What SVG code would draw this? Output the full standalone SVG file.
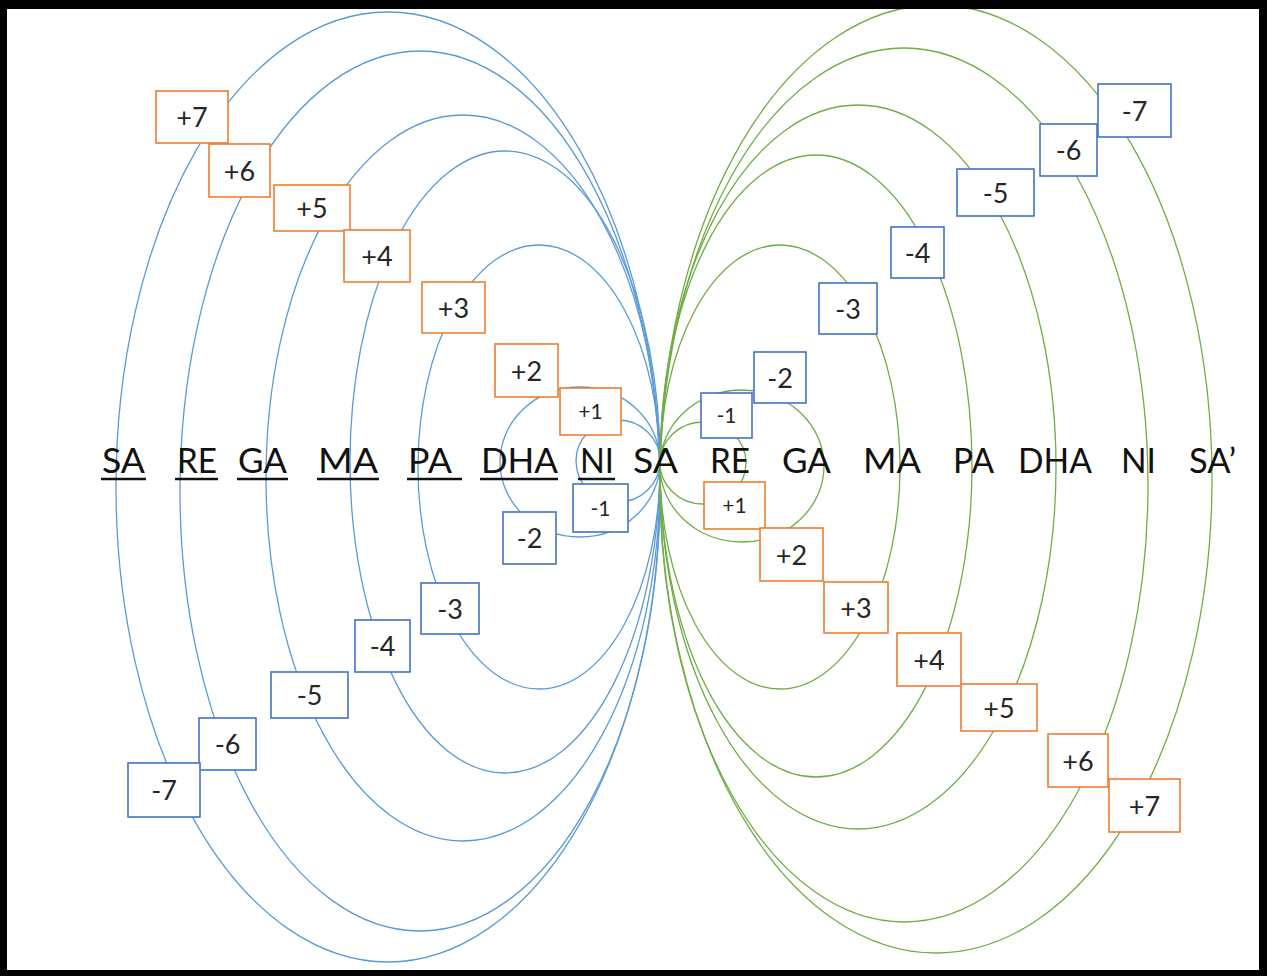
<svg xmlns="http://www.w3.org/2000/svg" width="1267" height="976" viewBox="0 0 1267 976">
  <style>
    .orb-l { fill: none; stroke: #5b9bd5; stroke-width: 1.3; }
    .orb-r { fill: none; stroke: #70ad47; stroke-width: 1.3; }
    .box-up { fill: #ffffff; stroke: #ed7d31; stroke-width: 1.6; }
    .box-dn { fill: #ffffff; stroke: #4472c4; stroke-width: 1.6; }
    .num { font-family: Lato, "Liberation Sans", sans-serif; font-size: 27px; fill: #262626; text-anchor: middle; }
    .num.small { font-size: 21px; }
    .note { font-family: Lato, "Liberation Sans", sans-serif; font-size: 34px; fill: #111111; }
    .ul { stroke: #111111; stroke-width: 2.6; }
  </style>

  <rect x="0" y="0" width="1267" height="976" fill="#ffffff"/>

  <!-- interval orbits: every loop passes through the central SA -->
  <g id="connectors">
    <g id="orbits-left">
      <ellipse class="orb-l" cx="388" cy="487" rx="272" ry="475"/>
      <ellipse class="orb-l" cx="420" cy="491" rx="240" ry="440"/>
      <ellipse class="orb-l" cx="463" cy="478" rx="197" ry="363"/>
      <ellipse class="orb-l" cx="505" cy="462" rx="155" ry="311"/>
      <ellipse class="orb-l" cx="539" cy="467" rx="121" ry="222"/>
      <ellipse class="orb-l" cx="580" cy="462" rx="80" ry="75"/>
      <ellipse class="orb-l" cx="618" cy="461" rx="42" ry="41"/>
    </g>
    <g id="orbits-right">
      <ellipse class="orb-r" cx="936" cy="479" rx="276" ry="474"/>
      <ellipse class="orb-r" cx="904" cy="485" rx="244" ry="437"/>
      <ellipse class="orb-r" cx="858" cy="467" rx="198" ry="362"/>
      <ellipse class="orb-r" cx="816" cy="466" rx="156" ry="311"/>
      <ellipse class="orb-r" cx="780" cy="467" rx="120" ry="222"/>
      <ellipse class="orb-r" cx="742" cy="466" rx="82" ry="76"/>
      <ellipse class="orb-r" cx="703" cy="463" rx="43" ry="41"/>
    </g>
  </g>

  <!-- note names -->
  <g id="scale-left">
    <text class="note" x="102" y="473" textLength="43" lengthAdjust="spacingAndGlyphs">SA</text>
    <text class="note" x="177" y="473" textLength="40" lengthAdjust="spacingAndGlyphs">RE</text>
    <text class="note" x="238" y="473" textLength="49" lengthAdjust="spacingAndGlyphs">GA</text>
    <text class="note" x="318" y="473" textLength="60" lengthAdjust="spacingAndGlyphs">MA</text>
    <text class="note" x="408" y="473" textLength="44" lengthAdjust="spacingAndGlyphs">PA</text>
    <text class="note" x="481" y="473" textLength="77" lengthAdjust="spacingAndGlyphs">DHA</text>
    <text class="note" x="580" y="473" textLength="34" lengthAdjust="spacingAndGlyphs">NI</text>
    <line class="ul" x1="101" y1="479" x2="146" y2="479"/>
    <line class="ul" x1="175" y1="479" x2="218" y2="479"/>
    <line class="ul" x1="237" y1="479" x2="288" y2="479"/>
    <line class="ul" x1="317" y1="479" x2="379" y2="479"/>
    <line class="ul" x1="407" y1="479" x2="462" y2="479"/>
    <line class="ul" x1="480" y1="479" x2="558" y2="479"/>
    <line class="ul" x1="578" y1="479" x2="615" y2="479"/>
  </g>
  <g id="scale-centre">
    <text class="note" x="633" y="473" textLength="45" lengthAdjust="spacingAndGlyphs">SA</text>
  </g>
  <g id="scale-right">
    <text class="note" x="710" y="473" textLength="40" lengthAdjust="spacingAndGlyphs">RE</text>
    <text class="note" x="782" y="473" textLength="49" lengthAdjust="spacingAndGlyphs">GA</text>
    <text class="note" x="863" y="473" textLength="58" lengthAdjust="spacingAndGlyphs">MA</text>
    <text class="note" x="953" y="473" textLength="41" lengthAdjust="spacingAndGlyphs">PA</text>
    <text class="note" x="1018" y="473" textLength="74" lengthAdjust="spacingAndGlyphs">DHA</text>
    <text class="note" x="1121" y="473" textLength="35" lengthAdjust="spacingAndGlyphs">NI</text>
    <text class="note" x="1189" y="473" textLength="47" lengthAdjust="spacingAndGlyphs">SA’</text>
  </g>

  <!-- left side: ascending steps -->
  <g id="left-up-7"><rect class="box-up" x="156" y="91" width="72" height="52"/><text class="num" x="192" y="127">+7</text></g>
  <g id="left-up-6"><rect class="box-up" x="209" y="144" width="61" height="53"/><text class="num" x="239.5" y="180.5">+6</text></g>
  <g id="left-up-5"><rect class="box-up" x="274" y="185" width="76" height="46"/><text class="num" x="312" y="218">+5</text></g>
  <g id="left-up-4"><rect class="box-up" x="344" y="230" width="66" height="52"/><text class="num" x="377" y="266">+4</text></g>
  <g id="left-up-3"><rect class="box-up" x="422" y="282" width="63" height="51"/><text class="num" x="453.5" y="317.5">+3</text></g>
  <g id="left-up-2"><rect class="box-up" x="495" y="344" width="63" height="53"/><text class="num" x="526.5" y="380.5">+2</text></g>
  <g id="left-up-1"><rect class="box-up" x="560" y="388" width="61" height="47"/><text class="num small" x="590.5" y="419">+1</text></g>

  <!-- left side: descending steps -->
  <g id="left-down-1"><rect class="box-dn" x="573" y="484" width="55" height="48"/><text class="num small" x="600.5" y="515.5">-1</text></g>
  <g id="left-down-2"><rect class="box-dn" x="503" y="512" width="53" height="52"/><text class="num" x="529.5" y="548">-2</text></g>
  <g id="left-down-3"><rect class="box-dn" x="421" y="583" width="58" height="51"/><text class="num" x="450" y="618.5">-3</text></g>
  <g id="left-down-4"><rect class="box-dn" x="355" y="620" width="55" height="52"/><text class="num" x="382.5" y="656">-4</text></g>
  <g id="left-down-5"><rect class="box-dn" x="271" y="672" width="77" height="46"/><text class="num" x="309.5" y="705">-5</text></g>
  <g id="left-down-6"><rect class="box-dn" x="199" y="718" width="57" height="52"/><text class="num" x="227.5" y="754">-6</text></g>
  <g id="left-down-7"><rect class="box-dn" x="128" y="763" width="72" height="54"/><text class="num" x="164" y="800">-7</text></g>

  <!-- right side: descending steps -->
  <g id="right-down-1"><rect class="box-dn" x="701" y="393" width="51" height="45"/><text class="num small" x="726.5" y="423">-1</text></g>
  <g id="right-down-2"><rect class="box-dn" x="754" y="352" width="52" height="51"/><text class="num" x="780" y="387.5">-2</text></g>
  <g id="right-down-3"><rect class="box-dn" x="819" y="283" width="58" height="51"/><text class="num" x="848" y="318.5">-3</text></g>
  <g id="right-down-4"><rect class="box-dn" x="891" y="227" width="53" height="51"/><text class="num" x="917.5" y="262.5">-4</text></g>
  <g id="right-down-5"><rect class="box-dn" x="957" y="169" width="77" height="47"/><text class="num" x="995.5" y="202.5">-5</text></g>
  <g id="right-down-6"><rect class="box-dn" x="1040" y="124" width="57" height="52"/><text class="num" x="1068.5" y="160">-6</text></g>
  <g id="right-down-7"><rect class="box-dn" x="1098" y="84" width="73" height="53"/><text class="num" x="1134.5" y="120.5">-7</text></g>

  <!-- right side: ascending steps -->
  <g id="right-up-1"><rect class="box-up" x="704" y="482" width="61" height="47"/><text class="num small" x="734.5" y="513">+1</text></g>
  <g id="right-up-2"><rect class="box-up" x="760" y="528" width="63" height="53"/><text class="num" x="791.5" y="564.5">+2</text></g>
  <g id="right-up-3"><rect class="box-up" x="824" y="582" width="64" height="51"/><text class="num" x="856" y="617.5">+3</text></g>
  <g id="right-up-4"><rect class="box-up" x="897" y="633" width="64" height="53"/><text class="num" x="929" y="669.5">+4</text></g>
  <g id="right-up-5"><rect class="box-up" x="961" y="684" width="76" height="47"/><text class="num" x="999" y="717.5">+5</text></g>
  <g id="right-up-6"><rect class="box-up" x="1048" y="734" width="60" height="53"/><text class="num" x="1078" y="770.5">+6</text></g>
  <g id="right-up-7"><rect class="box-up" x="1109" y="779" width="71" height="53"/><text class="num" x="1144.5" y="815.5">+7</text></g>

  <!-- black frame -->
  <path fill="#000000" fill-rule="evenodd" d="M0 0H1267V976H0Z M7 9V970H1259V9Z"/>
</svg>
